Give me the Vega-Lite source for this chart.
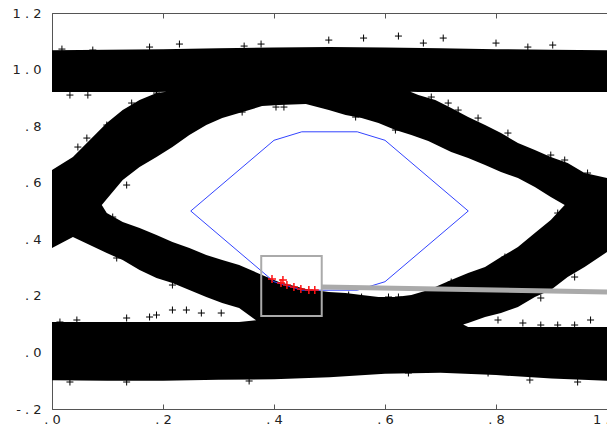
{
  "$schema": "https://vega.github.io/schema/vega-lite/v6.json",
  "width": 555,
  "height": 396,
  "autosize": {"type": "none"},
  "padding": {"left": 52, "top": 13, "right": 0, "bottom": 16},
  "background": "white",
  "config": {
    "view": {"stroke": null},
    "axis": {
      "grid": false,
      "domain": true,
      "domainColor": "#555555",
      "domainWidth": 1,
      "ticks": true,
      "tickColor": "#555555",
      "tickSize": -5,
      "labelFont": "DejaVu Sans",
      "labelFontSize": 13,
      "labelColor": "#222222",
      "labelFlush": false,
      "labelOverlap": false,
      "title": null
    }
  },
  "datasets": {
    "base": [
      {"x": 0, "lo": -0.098, "hi": 1.068},
      {"x": 0.1, "lo": -0.1, "hi": 1.07},
      {"x": 0.2, "lo": -0.1, "hi": 1.072},
      {"x": 0.3, "lo": -0.097, "hi": 1.075},
      {"x": 0.4, "lo": -0.095, "hi": 1.078},
      {"x": 0.5, "lo": -0.088, "hi": 1.08},
      {"x": 0.6, "lo": -0.075, "hi": 1.078},
      {"x": 0.7, "lo": -0.072, "hi": 1.075},
      {"x": 0.8, "lo": -0.08, "hi": 1.072},
      {"x": 0.9, "lo": -0.092, "hi": 1.07},
      {"x": 1.0, "lo": -0.1, "hi": 1.068}
    ],
    "holes": [
      {"r": "A", "x": 0.0897, "hi": 0.5211, "lo": 0.5211},
      {"r": "A", "x": 0.0987, "hi": 0.5423, "lo": 0.4928},
      {"r": "A", "x": 0.1274, "hi": 0.6095, "lo": 0.461},
      {"r": "A", "x": 0.1578, "hi": 0.6554, "lo": 0.4398},
      {"r": "A", "x": 0.1883, "hi": 0.6908, "lo": 0.4151},
      {"r": "A", "x": 0.217, "hi": 0.7261, "lo": 0.3903},
      {"r": "A", "x": 0.2475, "hi": 0.7685, "lo": 0.3691},
      {"r": "A", "x": 0.278, "hi": 0.8039, "lo": 0.3444},
      {"r": "A", "x": 0.3067, "hi": 0.8286, "lo": 0.3267},
      {"r": "A", "x": 0.3372, "hi": 0.8463, "lo": 0.309},
      {"r": "A", "x": 0.3785, "hi": 0.871, "lo": 0.2737},
      {"r": "A", "x": 0.409, "hi": 0.8746, "lo": 0.2489},
      {"r": "A", "x": 0.4574, "hi": 0.8781, "lo": 0.2242},
      {"r": "A", "x": 0.4987, "hi": 0.8569, "lo": 0.2136},
      {"r": "A", "x": 0.5291, "hi": 0.8392, "lo": 0.21},
      {"r": "A", "x": 0.5578, "hi": 0.8286, "lo": 0.203},
      {"r": "A", "x": 0.5883, "hi": 0.811, "lo": 0.1959},
      {"r": "A", "x": 0.6188, "hi": 0.7862, "lo": 0.1959},
      {"r": "A", "x": 0.6475, "hi": 0.7685, "lo": 0.203},
      {"r": "A", "x": 0.678, "hi": 0.7473, "lo": 0.2206},
      {"r": "A", "x": 0.7193, "hi": 0.7084, "lo": 0.256},
      {"r": "A", "x": 0.7498, "hi": 0.6872, "lo": 0.2807},
      {"r": "A", "x": 0.7803, "hi": 0.6625, "lo": 0.3019},
      {"r": "A", "x": 0.809, "hi": 0.6377, "lo": 0.3373},
      {"r": "A", "x": 0.8395, "hi": 0.6165, "lo": 0.3726},
      {"r": "A", "x": 0.87, "hi": 0.5847, "lo": 0.4221},
      {"r": "A", "x": 0.8987, "hi": 0.5494, "lo": 0.4681},
      {"r": "A", "x": 0.9238, "hi": 0.5211, "lo": 0.5211},
      {"r": "B", "x": 0, "hi": 0.9205, "lo": 0.6448},
      {"r": "B", "x": 0.0377, "hi": 0.9205, "lo": 0.6908},
      {"r": "B", "x": 0.0682, "hi": 0.9205, "lo": 0.7509},
      {"r": "B", "x": 0.0987, "hi": 0.9205, "lo": 0.811},
      {"r": "B", "x": 0.1274, "hi": 0.9205, "lo": 0.857},
      {"r": "B", "x": 0.1578, "hi": 0.9205, "lo": 0.8923},
      {"r": "B", "x": 0.1883, "hi": 0.9205, "lo": 0.917},
      {"r": "B", "x": 0.2063, "hi": 0.922, "lo": 0.922},
      {"r": "C", "x": 0, "hi": 0.369, "lo": 0.1075},
      {"r": "C", "x": 0.0377, "hi": 0.408, "lo": 0.1075},
      {"r": "C", "x": 0.0682, "hi": 0.3797, "lo": 0.1075},
      {"r": "C", "x": 0.0987, "hi": 0.3514, "lo": 0.1075},
      {"r": "C", "x": 0.1274, "hi": 0.3267, "lo": 0.1075},
      {"r": "C", "x": 0.1578, "hi": 0.2913, "lo": 0.1075},
      {"r": "C", "x": 0.1883, "hi": 0.2631, "lo": 0.1075},
      {"r": "C", "x": 0.217, "hi": 0.2454, "lo": 0.1075},
      {"r": "C", "x": 0.2475, "hi": 0.2206, "lo": 0.1075},
      {"r": "C", "x": 0.278, "hi": 0.1959, "lo": 0.1075},
      {"r": "C", "x": 0.3067, "hi": 0.1747, "lo": 0.1075},
      {"r": "C", "x": 0.3372, "hi": 0.157, "lo": 0.1075},
      {"r": "C", "x": 0.3677, "hi": 0.114, "lo": 0.114},
      {"r": "D", "x": 0.6457, "hi": 0.922, "lo": 0.922},
      {"r": "D", "x": 0.6601, "hi": 0.9205, "lo": 0.91},
      {"r": "D", "x": 0.6906, "hi": 0.9205, "lo": 0.8923},
      {"r": "D", "x": 0.7193, "hi": 0.9205, "lo": 0.864},
      {"r": "D", "x": 0.7498, "hi": 0.9205, "lo": 0.832},
      {"r": "D", "x": 0.7803, "hi": 0.9205, "lo": 0.8039},
      {"r": "D", "x": 0.809, "hi": 0.9205, "lo": 0.7756},
      {"r": "D", "x": 0.8395, "hi": 0.9205, "lo": 0.7402},
      {"r": "D", "x": 0.87, "hi": 0.9205, "lo": 0.7155},
      {"r": "D", "x": 0.8987, "hi": 0.9205, "lo": 0.6908},
      {"r": "D", "x": 0.9291, "hi": 0.9205, "lo": 0.6696},
      {"r": "D", "x": 0.9596, "hi": 0.9205, "lo": 0.6342},
      {"r": "D", "x": 1.0, "hi": 0.9205, "lo": 0.6165},
      {"r": "E", "x": 0.7408, "hi": 0.0985, "lo": 0.0985},
      {"r": "E", "x": 0.7498, "hi": 0.104, "lo": 0.0899},
      {"r": "E", "x": 0.7803, "hi": 0.1252, "lo": 0.0899},
      {"r": "E", "x": 0.809, "hi": 0.1393, "lo": 0.0899},
      {"r": "E", "x": 0.8395, "hi": 0.1606, "lo": 0.0899},
      {"r": "E", "x": 0.87, "hi": 0.1959, "lo": 0.0899},
      {"r": "E", "x": 0.8987, "hi": 0.2206, "lo": 0.0899},
      {"r": "E", "x": 0.9291, "hi": 0.2666, "lo": 0.0899},
      {"r": "E", "x": 0.9596, "hi": 0.302, "lo": 0.0899},
      {"r": "E", "x": 1.0, "hi": 0.355, "lo": 0.0899}
    ],
    "pluses": [
      {"x": 0.0179, "y": 1.0725}, {"x": 0.0735, "y": 1.069}, {"x": 0.1758, "y": 1.0796},
      {"x": 0.2296, "y": 1.0902}, {"x": 0.3462, "y": 1.0831}, {"x": 0.3767, "y": 1.0902},
      {"x": 0.4987, "y": 1.1043}, {"x": 0.5614, "y": 1.1114}, {"x": 0.6242, "y": 1.1185},
      {"x": 0.6691, "y": 1.0937}, {"x": 0.7049, "y": 1.1114}, {"x": 0.8, "y": 1.0937},
      {"x": 0.8574, "y": 1.0796}, {"x": 0.9022, "y": 1.0867},
      {"x": 0.0323, "y": 0.9099}, {"x": 0.0646, "y": 0.9099}, {"x": 0.1435, "y": 0.8817},
      {"x": 0.1883, "y": 0.917}, {"x": 0.0628, "y": 0.7579}, {"x": 0.0466, "y": 0.7261},
      {"x": 0.0987, "y": 0.8039}, {"x": 0.1345, "y": 0.5918}, {"x": 0.1094, "y": 0.4787},
      {"x": 0.3426, "y": 0.8498}, {"x": 0.4036, "y": 0.8675}, {"x": 0.4179, "y": 0.8675},
      {"x": 0.5471, "y": 0.8322}, {"x": 0.6188, "y": 0.7862}, {"x": 0.6834, "y": 0.9029},
      {"x": 0.7139, "y": 0.8817}, {"x": 0.7318, "y": 0.8569}, {"x": 0.7677, "y": 0.8286},
      {"x": 0.8215, "y": 0.7756}, {"x": 0.8987, "y": 0.6978}, {"x": 0.9238, "y": 0.6802},
      {"x": 0.965, "y": 0.6342},
      {"x": 0.1166, "y": 0.3338}, {"x": 0.217, "y": 0.2383}, {"x": 0.217, "y": 0.15},
      {"x": 0.2422, "y": 0.15}, {"x": 0.2691, "y": 0.1393}, {"x": 0.3049, "y": 0.1393},
      {"x": 0.1758, "y": 0.1252}, {"x": 0.0143, "y": 0.1075}, {"x": 0.0448, "y": 0.1146},
      {"x": 0.1345, "y": 0.1217}, {"x": 0.1883, "y": 0.1323}, {"x": 0.5345, "y": 0.203},
      {"x": 0.5578, "y": 0.1959}, {"x": 0.6063, "y": 0.1959}, {"x": 0.6242, "y": 0.1959},
      {"x": 0.7193, "y": 0.2489}, {"x": 0.8161, "y": 0.3373}, {"x": 0.9112, "y": 0.4928},
      {"x": 0.9417, "y": 0.2666}, {"x": 0.8807, "y": 0.1924}, {"x": 0.8036, "y": 0.1146},
      {"x": 0.8484, "y": 0.104}, {"x": 0.8807, "y": 0.0969}, {"x": 0.9112, "y": 0.0969},
      {"x": 0.9417, "y": 0.0969}, {"x": 0.9704, "y": 0.1146},
      {"x": 0.0323, "y": -0.1046}, {"x": 0.1345, "y": -0.1046}, {"x": 0.3552, "y": -0.101},
      {"x": 0.6422, "y": -0.0727}, {"x": 0.7857, "y": -0.0727}, {"x": 0.861, "y": -0.0975},
      {"x": 0.9471, "y": -0.1046}
    ],
    "mask": [
      {"o": 0, "x": 0.25, "y": 0.5},
      {"o": 1, "x": 0.4, "y": 0.75},
      {"o": 2, "x": 0.45, "y": 0.78},
      {"o": 3, "x": 0.55, "y": 0.78},
      {"o": 4, "x": 0.6, "y": 0.75},
      {"o": 5, "x": 0.75, "y": 0.5},
      {"o": 6, "x": 0.6, "y": 0.25},
      {"o": 7, "x": 0.55, "y": 0.22},
      {"o": 8, "x": 0.45, "y": 0.22},
      {"o": 9, "x": 0.4, "y": 0.25},
      {"o": 10, "x": 0.25, "y": 0.5}
    ],
    "red": [
      {"x": 0.3964, "y": 0.2595}, {"x": 0.4126, "y": 0.2454}, {"x": 0.4161, "y": 0.256},
      {"x": 0.4233, "y": 0.2383}, {"x": 0.4359, "y": 0.2312}, {"x": 0.4484, "y": 0.2242},
      {"x": 0.4628, "y": 0.2206}, {"x": 0.4735, "y": 0.2206}
    ],
    "box": [{"x": 0.377, "x2": 0.486, "y": 0.129, "y2": 0.341}],
    "link": [
      {"x": 0.4861, "y": 0.2313},
      {"x": 1.0, "y": 0.2136}
    ]
  },
  "layer": [
    {
      "data": {"name": "base"},
      "mark": {"type": "area", "color": "black", "clip": true},
      "encoding": {
        "x": {
          "field": "x", "type": "quantitative",
          "scale": {"domain": [0, 1], "nice": false},
          "axis": {
            "orient": "bottom",
            "values": [0, 0.2, 0.4, 0.6, 0.8, 1],
            "labelPadding": 9,
            "labelExpr": "datum.value < 0.1 ? '. 0' : datum.value < 0.3 ? '. 2' : datum.value < 0.5 ? '. 4' : datum.value < 0.7 ? '. 6' : datum.value < 0.9 ? '. 8' : '1 . 0'"
          }
        },
        "y": {
          "field": "hi", "type": "quantitative",
          "scale": {"domain": [-0.2, 1.2], "nice": false, "zero": false},
          "axis": {
            "orient": "left",
            "values": [-0.2, 0, 0.2, 0.4, 0.6, 0.8, 1, 1.2],
            "labelPadding": 16,
            "labelExpr": "datum.value < -0.1 ? '- . 2' : datum.value < 0.1 ? '. 0' : datum.value < 0.3 ? '. 2' : datum.value < 0.5 ? '. 4' : datum.value < 0.7 ? '. 6' : datum.value < 0.9 ? '. 8' : datum.value < 1.1 ? '1 . 0' : '1 . 2'"
          }
        },
        "y2": {"field": "lo"}
      }
    },
    {
      "data": {"name": "holes"},
      "transform": [{"filter": "datum.r === 'A'"}],
      "mark": {"type": "area", "color": "white", "clip": true},
      "encoding": {
        "x": {
          "field": "x", "type": "quantitative",
          "scale": {"domain": [0, 1], "nice": false},
          "axis": {"orient": "top", "values": [0, 0.2, 0.4, 0.6, 0.8, 1], "labels": false}
        },
        "y": {
          "field": "hi", "type": "quantitative",
          "scale": {"domain": [-0.2, 1.2], "nice": false, "zero": false},
          "axis": {"orient": "right", "values": [-0.2, 0, 0.2, 0.4, 0.6, 0.8, 1, 1.2], "labels": false, "domain": false}
        },
        "y2": {"field": "lo"}
      }
    },
    {
      "data": {"name": "holes"},
      "transform": [{"filter": "datum.r !== 'A'"}],
      "mark": {"type": "area", "color": "white", "clip": true},
      "encoding": {
        "x": {"field": "x", "type": "quantitative", "scale": {"domain": [0, 1], "nice": false}, "axis": null},
        "y": {"field": "hi", "type": "quantitative", "scale": {"domain": [-0.2, 1.2], "nice": false, "zero": false}, "axis": null},
        "y2": {"field": "lo"},
        "detail": {"field": "r", "type": "nominal"}
      }
    },
    {
      "data": {"name": "pluses"},
      "mark": {"type": "point", "shape": "M-1,0L1,0M0,-1L0,1", "filled": false, "stroke": "black", "strokeWidth": 1, "size": 49, "opacity": 1, "clip": true},
      "encoding": {
        "x": {"field": "x", "type": "quantitative", "scale": {"domain": [0, 1], "nice": false}, "axis": null},
        "y": {"field": "y", "type": "quantitative", "scale": {"domain": [-0.2, 1.2], "nice": false, "zero": false}, "axis": null}
      }
    },
    {
      "data": {"name": "mask"},
      "mark": {"type": "line", "color": "#3344ff", "strokeWidth": 1, "clip": true},
      "encoding": {
        "x": {"field": "x", "type": "quantitative", "scale": {"domain": [0, 1], "nice": false}, "axis": null},
        "y": {"field": "y", "type": "quantitative", "scale": {"domain": [-0.2, 1.2], "nice": false, "zero": false}, "axis": null},
        "order": {"field": "o", "type": "quantitative"}
      }
    },
    {
      "data": {"name": "red"},
      "mark": {"type": "point", "shape": "M-1,0L1,0M0,-1L0,1", "filled": false, "stroke": "#ff1010", "strokeWidth": 1.5, "size": 64, "opacity": 1, "clip": true},
      "encoding": {
        "x": {"field": "x", "type": "quantitative", "scale": {"domain": [0, 1], "nice": false}, "axis": null},
        "y": {"field": "y", "type": "quantitative", "scale": {"domain": [-0.2, 1.2], "nice": false, "zero": false}, "axis": null}
      }
    },
    {
      "data": {"name": "box"},
      "mark": {"type": "rect", "fill": null, "fillOpacity": 0, "stroke": "#aaaaaa", "strokeWidth": 2, "clip": true},
      "encoding": {
        "x": {"field": "x", "type": "quantitative", "scale": {"domain": [0, 1], "nice": false}, "axis": null},
        "x2": {"field": "x2"},
        "y": {"field": "y", "type": "quantitative", "scale": {"domain": [-0.2, 1.2], "nice": false, "zero": false}, "axis": null},
        "y2": {"field": "y2"}
      }
    },
    {
      "data": {"name": "link"},
      "mark": {"type": "line", "color": "#aaaaaa", "strokeWidth": 5, "clip": true},
      "encoding": {
        "x": {"field": "x", "type": "quantitative", "scale": {"domain": [0, 1], "nice": false}, "axis": null},
        "y": {"field": "y", "type": "quantitative", "scale": {"domain": [-0.2, 1.2], "nice": false, "zero": false}, "axis": null}
      }
    }
  ],
  "resolve": {"axis": {"x": "independent", "y": "independent"}}
}
